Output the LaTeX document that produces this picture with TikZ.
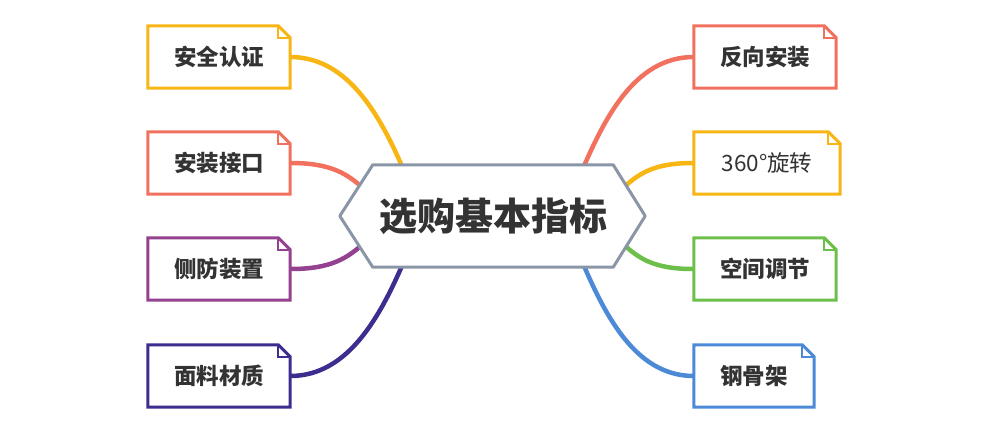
\documentclass[tikz,border=0pt]{standalone}
\usepackage{fontspec}
\newfontfamily\cjk{Noto Sans CJK SC}
\definecolor{jaune}{HTML}{F7B614}
\definecolor{saumon}{HTML}{F2705E}
\definecolor{violet}{HTML}{94418F}
\definecolor{marine}{HTML}{3E2C8F}
\definecolor{vert}{HTML}{6CC04A}
\definecolor{bleu}{HTML}{4C8AD8}
\definecolor{ardoise}{HTML}{8A96A8}
\definecolor{texte}{HTML}{333333}
\tikzset{
  fiche/.style={minimum width=142, minimum height=62, inner sep=0pt, text=texte, font=\cjk\bfseries\fontsize{22.5}{27}\selectfont},
  lien/.style={line width=4.5, line cap=round},
}
\newcommand\bordfiche[2]{%
  \draw[#2, line width=3, fill=white] (#1.south west) -- (#1.north west) -- ([xshift=-12pt]#1.north east) -- ([yshift=-12pt]#1.north east) -- (#1.south east) -- cycle;
  \draw[#2, line width=1.5] ([xshift=-12pt]#1.north east) |- ([yshift=-12pt]#1.north east);
}
\begin{document}
\begin{tikzpicture}[x=1pt,y=-1pt]
\useasboundingbox (0,0) rectangle (983,432);
\node[minimum width=240, minimum height=102, inner sep=0pt] (centre) at (493,216) {};
\node[fiche] (securite) at (219,57) {};
\node[fiche] (interface) at (219,163) {};
\node[fiche] (laterale) at (219,269) {};
\node[fiche] (tissu) at (219,376) {};
\node[fiche] (inverse) at (765,57) {};
\node[fiche, minimum width=146] (rotation) at (767,163) {};
\node[fiche] (espace) at (765,269) {};
\node[fiche, minimum width=120] (acier) at (754,376) {};
\draw[lien, jaune] (securite.east) .. controls +(60,0) and +(-25,-60) .. ([xshift=35pt,yshift=-15pt]centre.north west);
\draw[lien, saumon] (interface.east) .. controls +(40,0) and +(-20,-20) .. ([xshift=-5pt,yshift=-28pt]centre.north west);
\draw[lien, violet] (laterale.east) .. controls +(40,0) and +(-20,20) .. ([xshift=-5pt,yshift=28pt]centre.south west);
\draw[lien, marine] (tissu.east) .. controls +(60,0) and +(-25,60) .. ([xshift=35pt,yshift=15pt]centre.south west);
\draw[lien, saumon] (inverse.west) .. controls +(-60,0) and +(25,-60) .. ([xshift=-35pt,yshift=-15pt]centre.north east);
\draw[lien, jaune] (rotation.west) .. controls +(-40,0) and +(20,-20) .. ([xshift=5pt,yshift=-28pt]centre.north east);
\draw[lien, vert] (espace.west) .. controls +(-40,0) and +(20,20) .. ([xshift=5pt,yshift=28pt]centre.south east);
\draw[lien, bleu] (acier.west) .. controls +(-60,0) and +(25,60) .. ([xshift=-35pt,yshift=15pt]centre.south east);
\draw[ardoise, line width=3, fill=white, line join=round] ([xshift=-33pt]centre.west) -- (centre.north west) -- (centre.north east) -- ([xshift=32pt]centre.east) -- (centre.south east) -- (centre.south west) -- cycle;
\node[text=texte, font=\cjk\bfseries\fontsize{38}{45}\selectfont] at (centre) {选购基本指标};
\bordfiche{securite}{jaune}
\bordfiche{interface}{saumon}
\bordfiche{laterale}{violet}
\bordfiche{tissu}{marine}
\bordfiche{inverse}{saumon}
\bordfiche{rotation}{jaune}
\bordfiche{espace}{vert}
\bordfiche{acier}{bleu}
\node[fiche] at (securite) {安全认证};
\node[fiche] at (interface) {安装接口};
\node[fiche] at (laterale) {侧防装置};
\node[fiche] at (tissu) {面料材质};
\node[fiche] at (inverse) {反向安装};
\node[fiche, font=\cjk\fontsize{22.5}{27}\selectfont] at (rotation) {360°旋转};
\node[fiche] at (espace) {空间调节};
\node[fiche] at (acier) {钢骨架};
\end{tikzpicture}
\end{document}
